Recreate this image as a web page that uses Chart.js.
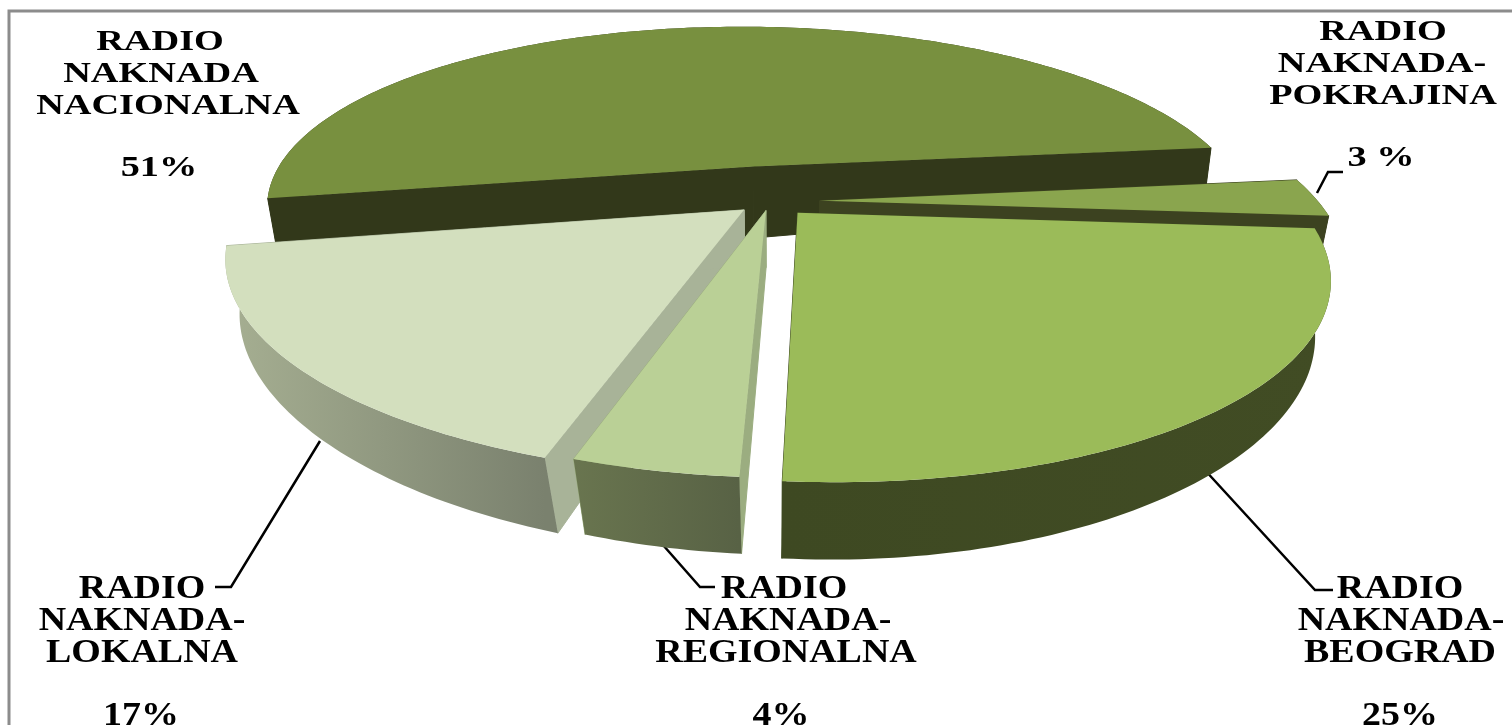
<!DOCTYPE html>
<html>
<head>
<meta charset="utf-8">
<title>Radio naknada</title>
<script src="https://cdn.jsdelivr.net/npm/chart.js@4/dist/chart.umd.js"></script>
<style>
  html, body { margin: 0; padding: 0; background: #fff; overflow: hidden; }
  canvas { display: block; }
</style>
</head>
<body>
<canvas id="myChart" width="1512" height="725"></canvas>
<script>
// data, clockwise from the left edge of the big slice
var categories = ['RADIO NAKNADA NACIONALNA', 'RADIO NAKNADA-POKRAJINA', 'RADIO NAKNADA-BEOGRAD', 'RADIO NAKNADA-REGIONALNA', 'RADIO NAKNADA-LOKALNA'];
var shares = [51, 3, 25, 4, 17];
var percentLabels = ['51%', '3 %', '25%', '4%', '17%'];
var labelLines = [
    ['RADIO', 'NAKNADA', 'NACIONALNA'],
    ['RADIO', 'NAKNADA-', 'POKRAJINA'],
    ['RADIO', 'NAKNADA-', 'BEOGRAD'],
    ['RADIO', 'NAKNADA-', 'REGIONALNA'],
    ['RADIO', 'NAKNADA-', 'LOKALNA']
];

// colours
var topColors = ['#78903f', '#8aa54e', '#9bbb59', '#bad096', '#d3dfbe'];
var wallColors = [['#32381a', '#32381a'], ['#3c4220', '#3c4220'], ['#3e4922', '#414c24'], ['#69754f', '#586245'], ['#a6af92', '#7a816e']];
var cutColors = ['#32381a', '#3c4220', '#3e4922', '#9bad80', '#a8b398'];
var explode = [19, 10, 8, 5, 7];
var hubDrop = [18, 0, 0, 0, 0];
var paintOrder = [0, 1, 4, 3, 2];

// camera for the tilted pie
var cam = { cx: 770, cy: 201, a: 498, b: 192, c: 20, k: 0.26, depth: 56, vx: 775 };

function project(u, v, lowered, drop) {
    var w = 1 - cam.k * v;
    var x = cam.cx + (cam.a * u + cam.c * v) / w;
    var y = cam.cy + cam.b * v / w;
    if (lowered) {
        y += cam.depth / w + (drop || 0);
        x = cam.vx + (x - cam.vx) * (1 - 0.02 / Math.pow(w, 3.5));
    }
    return { x: x, y: y };
}

function tracePath(ctx, pts) {
    ctx.beginPath();
    pts.forEach(function (p, i) {
        if (i == 0) ctx.moveTo(p.x, p.y);
        else ctx.lineTo(p.x, p.y);
    });
    ctx.closePath();
}

class Arc3d extends Chart.ArcElement {
    draw(ctx) {
        var idx = this.$context.dataIndex;
        var mid = (this.startAngle + this.endAngle) / 2;
        var e = this.options.offset / 100;
        var du = Math.cos(mid) * e;
        var dv = Math.sin(mid) * e;
        var steps = Math.ceil((this.endAngle - this.startAngle) * 180 / Math.PI);
        var top = [], bottom = [];
        for (var s = 0; s <= steps; s++) {
            var t = this.startAngle + (this.endAngle - this.startAngle) * s / steps;
            top.push(project(du + Math.cos(t), dv + Math.sin(t), false));
            bottom.push(project(du + Math.cos(t), dv + Math.sin(t), true));
        }
        var apex = project(du, dv, false);
        var apexLow = project(du, dv, true, hubDrop[idx]);

        // cut walls, thin stroke hides the seam at the hub
        ctx.fillStyle = cutColors[idx];
        ctx.strokeStyle = cutColors[idx];
        ctx.lineWidth = 1;
        tracePath(ctx, [apex, top[0], bottom[0], apexLow]);
        ctx.fill();
        ctx.stroke();
        tracePath(ctx, [apex, top[steps], bottom[steps], apexLow]);
        ctx.fill();
        ctx.stroke();

        // outer wall
        var xs = top.map(function (p) { return p.x; });
        var grad = ctx.createLinearGradient(Math.min.apply(null, xs), 0, Math.max.apply(null, xs), 0);
        grad.addColorStop(0, wallColors[idx][0]);
        grad.addColorStop(1, wallColors[idx][1]);
        ctx.fillStyle = grad;
        tracePath(ctx, top.concat(bottom.slice().reverse()));
        ctx.fill();

        // top face
        ctx.fillStyle = this.options.backgroundColor;
        tracePath(ctx, [apex].concat(top));
        ctx.fill();
    }
}
Arc3d.id = 'arc3d';
Arc3d.defaults = Object.assign({}, Chart.ArcElement.defaults);
Arc3d.defaultRoutes = Chart.ArcElement.defaultRoutes;
Arc3d.descriptors = Chart.ArcElement.descriptors;

class Pie3dController extends Chart.DoughnutController {
    draw() {
        var ctx = this.chart.ctx;
        var arcs = this.getMeta().data;
        paintOrder.forEach(function (i) { arcs[i].draw(ctx); });
    }
}
Pie3dController.id = 'pie3d';
Pie3dController.defaults = Object.assign({}, Chart.DoughnutController.defaults, { dataElementType: 'arc3d' });
Pie3dController.overrides = Chart.DoughnutController.overrides;

Chart.register(Arc3d, Pie3dController);

// where each label block sits
var labelBoxes = [
    { x: [160, 161, 168], lines: [50, 82, 114], pct: 176, pctX: 159, size: 29, stretch: 1.32 },
    { x: [1383, 1382, 1383], lines: [40, 72, 104], pct: 166, pctX: 1381, size: 29, stretch: 1.32 },
    { x: [1400, 1401, 1400], lines: [598, 630, 662], pct: 725, pctX: 1400, size: 33, stretch: 1.15 },
    { x: [784, 788, 786], lines: [598, 630, 662], pct: 725, pctX: 781, size: 33, stretch: 1.15 },
    { x: [142, 142, 142], lines: [598, 630, 662], pct: 725, pctX: 141, size: 33, stretch: 1.15 }
];
var leaders = [
    null,
    [[1317, 193], [1328, 172], [1343, 172]],
    [[1203, 468], [1315, 590], [1333, 590]],
    [[663, 545], [700, 587], [715, 587]],
    [[320, 441], [231, 587], [215, 587]]
];

function stretchedText(ctx, text, x, y, box) {
    ctx.save();
    ctx.translate(x, y);
    ctx.scale(box.stretch, 1);
    ctx.font = 'bold ' + box.size + 'px "Liberation Serif"';
    ctx.textAlign = 'center';
    ctx.fillStyle = '#000';
    ctx.fillText(text, 0, 0);
    ctx.restore();
}

var framePlugin = {
    id: 'frame',
    beforeDraw: function (chart) {
        var ctx = chart.ctx;
        ctx.save();
        ctx.fillStyle = '#fff';
        ctx.fillRect(0, 0, chart.width, chart.height);
        ctx.strokeStyle = '#8c8c8c';
        ctx.lineWidth = 3;
        ctx.beginPath();
        ctx.moveTo(9, chart.height);
        ctx.lineTo(9, 11);
        ctx.lineTo(chart.width, 11);
        ctx.stroke();
        ctx.restore();
    }
};

var labelPlugin = {
    id: 'sliceLabels',
    beforeDatasetsDraw: function (chart) {
        // leaders run under the slices
        var ctx = chart.ctx;
        ctx.save();
        ctx.strokeStyle = '#000';
        ctx.lineWidth = 2.5;
        leaders.forEach(function (l) {
            if (!l) return;
            ctx.beginPath();
            ctx.moveTo(l[0][0], l[0][1]);
            ctx.lineTo(l[1][0], l[1][1]);
            ctx.lineTo(l[2][0], l[2][1]);
            ctx.stroke();
        });
        ctx.restore();
    },
    afterDatasetsDraw: function (chart) {
        var ctx = chart.ctx;
        labelBoxes.forEach(function (box, i) {
            labelLines[i].forEach(function (line, j) {
                stretchedText(ctx, line, box.x[j], box.lines[j], box);
            });
            stretchedText(ctx, percentLabels[i], box.pctX, box.pct, box);
        });
    }
};

var ctx = document.getElementById('myChart').getContext('2d');
var myChart = new Chart(ctx, {
    type: 'pie3d',
    data: {
        labels: categories,
        datasets: [{
            data: shares,
            backgroundColor: topColors,
            offset: explode,
            borderWidth: 0
        }]
    },
    options: {
        responsive: false,
        animation: false,
        rotation: 260,
        cutout: 0,
        plugins: { legend: { display: false }, tooltip: { enabled: false } }
    },
    plugins: [framePlugin, labelPlugin]
});
</script>
</body>
</html>
